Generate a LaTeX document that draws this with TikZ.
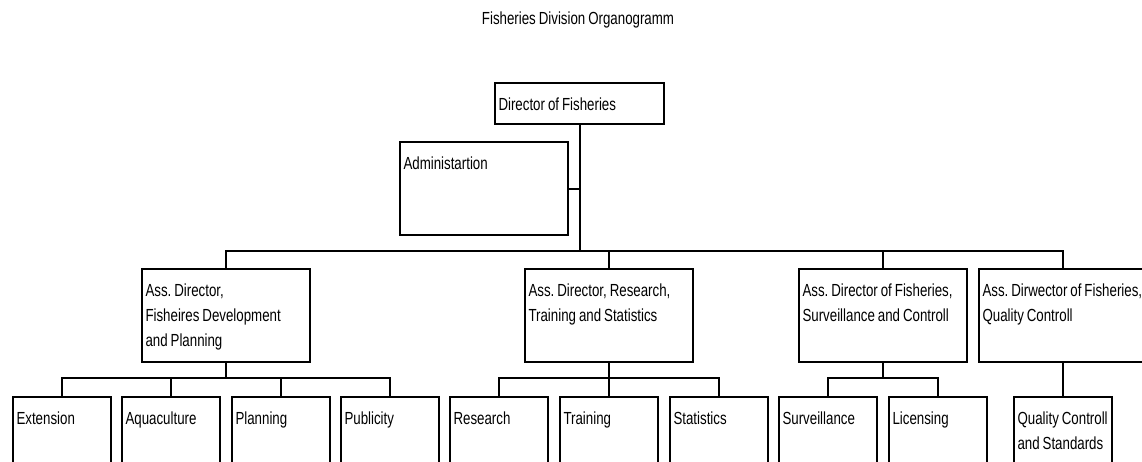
\documentclass[tikz,border=0pt]{standalone}
\usepackage{fontspec}
\setmainfont{Liberation Sans}[FakeStretch=0.76,WordSpace=0.8]
\frenchspacing
\hyphenpenalty=10000

\begin{document}
\begin{tikzpicture}[x=1pt,y=-1pt,
    box/.style={draw, line width=2pt, anchor=north west, align=flush left,
      inner xsep=3.5pt, inner ysep=0pt, text height=27pt},
    big/.style={box, text width=161pt, text depth=66pt},
    unit/.style={box, text width=91pt, text depth=60pt},
    link/.style={line width=2pt},
    every node/.style={font=\fontsize{17.5}{25}\selectfont}]
    \useasboundingbox[fill=white] (0,0) rectangle (1142,461);

    % Title
    \node (title) at (578,20) {Fisheries Division Organogramm};

    % Top of the chart
    \node[box, text width=162pt, text depth=14pt] (dir) at (494,82) {Director of Fisheries};
    \node[big] (adm) at (399,141) {Administartion};

    % Assistant directors
    \node[big] (ad1) at (141,268) {Ass. Director,\\Fisheires Development\\and Planning};
    \node[big] (ad2) at (524,268) {Ass. Director, Research,\\Training and Statistics};
    \node[big] (ad3) at (798,268) {Ass. Director of Fisheries,\\Surveillance and Controll};
    \node[big] (ad4) at (978,268) {Ass. Dirwector of Fisheries,\\Quality Controll};

    % Units
    \node[unit] (ext) at (12,396) {Extension};
    \node[unit] (aqua) at (121,396) {Aquaculture};
    \node[unit] (plan) at (231,396) {Planning};
    \node[unit] (pub) at (340,396) {Publicity};
    \node[unit] (res) at (449,396) {Research};
    \node[unit] (train) at (559,396) {Training};
    \node[unit] (stat) at (669,396) {Statistics};
    \node[unit] (surv) at (778,396) {Surveillance};
    \node[unit] (lic) at (888,396) {Licensing};
    \node[unit] (qual) at (1013,396) {Quality Controll\\and Standards};

    % Bus coordinates
    \coordinate (bus) at (dir.south |- 0,251);
    \coordinate (b1) at (ad1.south |- 0,378);
    \coordinate (b2) at (ad2.south |- 0,378);
    \coordinate (b3) at (ad3.south |- 0,378);

    % Lines from the director
    \draw[link] (dir.south) -- (bus);
    \draw[link] (adm.east) -- (adm.east -| dir.south);
    \draw[link] (ad1.north) |- (bus) -| (ad4.north);
    \draw[link] (bus -| ad2.north) -- (ad2.north);
    \draw[link] (bus -| ad3.north) -- (ad3.north);

    % Lines to the units
    \draw[link] (ad1.south) -- (b1);
    \draw[link] (ext.north) |- (b1) -| (pub.north);
    \draw[link] (b1 -| aqua.north) -- (aqua.north);
    \draw[link] (b1 -| plan.north) -- (plan.north);

    \draw[link] (ad2.south) -- (b2);
    \draw[link] (res.north) |- (b2) -| (stat.north);
    \draw[link] (b2) -- (train.north);

    \draw[link] (ad3.south) -- (b3);
    \draw[link] (surv.north) |- (b3) -| (lic.north);

    \draw[link] (ad4.south) -- (qual.north);
\end{tikzpicture}
\end{document}
